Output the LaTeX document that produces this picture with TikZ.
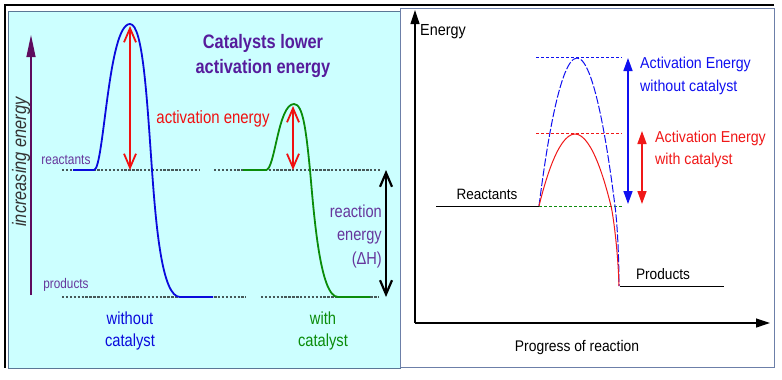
\documentclass[tikz,border=0pt]{standalone}
\usepackage{fontspec}
\setmainfont{Liberation Sans}
\newfontfamily\narrowsf[FakeStretch=0.84]{Liberation Sans}
\newfontfamily\plotsf[FakeStretch=0.9]{Liberation Sans}
\usetikzlibrary{arrows.meta}
\definecolor{panelcyan}{HTML}{CCFFFF}
\definecolor{paneledge}{HTML}{5A7896}
\definecolor{frameedge}{HTML}{6C7FA8}
\definecolor{titlepurple}{HTML}{561C9C}
\definecolor{labelpurple}{HTML}{66369C}
\definecolor{axispurple}{HTML}{5E0B5E}
\definecolor{dotgray}{HTML}{465858}
\definecolor{curveblue}{HTML}{0A0ADC}
\definecolor{curvegreen}{HTML}{0A8C0A}
\definecolor{arrowred}{HTML}{F01010}
\definecolor{plotblue}{HTML}{1010F0}
\definecolor{plotred}{HTML}{F01818}
\definecolor{plotgreen}{HTML}{108C10}

\begin{document}
\begin{tikzpicture}[x=1pt, y=-1pt,
  lbl/.style={inner sep=0pt, align=center},
  level/.style={draw=dotgray, line width=2.2pt, dash pattern=on 2.4pt off 1.5pt},
  curve/.style={line width=1.8pt, line join=round},
  gap/.style={{Straight Barb[length=14pt,width=12pt]}-{Straight Barb[length=14pt,width=12pt]}, line width=1.8pt},
  axis/.style={-{Triangle[length=14pt,width=9pt]}, line width=1.2pt},
  bar/.style={{Triangle[length=13pt,width=9pt]}-{Triangle[length=13pt,width=9pt]}, line width=1.5pt},
  guide/.style={line width=0.9pt, dash pattern=on 3pt off 2pt}]
  \useasboundingbox (0,0) rectangle (782,380);
  % left panel
  \fill[white] (0,0) rectangle (782,380);
  \draw[draw=paneledge, fill=panelcyan, line width=0.9pt] (8,11) rectangle (400,368);
  \draw[draw=frameedge, fill=white, line width=0.9pt] (400.5,8) rectangle (774,367);
  \draw[line width=1.2pt] (774,5) -- (5,5) -- (5,368);
  \coordinate (axisbot) at (31,295);
  \coordinate (axistop) at (31,35);
  \draw[-{Triangle[length=22pt,width=9pt]}, draw=axispurple, fill=axispurple, line width=1.2pt] (axisbot) -- (axistop);
  \node[lbl, rotate=90, font=\narrowsf\fontsize{19.5}{22}\selectfont\itshape, text=black!80] (incrlabel) at (21,162) {increasing energy};
  \node[lbl, font=\narrowsf\fontsize{19.5}{25}\selectfont\bfseries, text=titlepurple] (title) at (263,56) {Catalysts lower\\activation energy};
  \node[lbl, font=\narrowsf\fontsize{14.2}{16}\selectfont, text=labelpurple] (reactlabel) at (66,160) {reactants};
  \node[lbl, font=\narrowsf\fontsize{14}{16}\selectfont, text=labelpurple] (prodlabel) at (66,285) {products};
  \foreach \xa/\xb/\yy in {62/200/170, 214/380/170, 62/246/297, 261/379/297}
    \draw[level] (\xa,\yy) -- (\xb,\yy);
  \draw[curve, curveblue] (73,170) -- (94,170) .. controls (104,170) and (108,24) .. (130,24)
    .. controls (143,24) and (147,100) .. (152,170) .. controls (156,226) and (162,297) .. (180,297) -- (213,297);
  \draw[curve, curvegreen] (243,170) -- (266,170) .. controls (275,170) and (278,104) .. (294,104)
    .. controls (303,104) and (306,130) .. (310,170) .. controls (314,215) and (320,297) .. (338,297) -- (370,297);
  \coordinate (peakA) at (130,26);
  \coordinate (baseA) at (130,170);
  \coordinate (peakB) at (293,106);
  \coordinate (baseB) at (293,170);
  \coordinate (dHtop) at (386,170);
  \coordinate (dHbot) at (386,297);
  \draw[gap, arrowred] (peakA) -- (baseA);
  \draw[gap, arrowred] (peakB) -- (baseB);
  \draw[gap, black, line width=2.2pt] (dHtop) -- (dHbot);
  \node[lbl, font=\narrowsf\fontsize{17.8}{20}\selectfont, text=arrowred] (actlabel) at (213,119) {activation energy};
  \node[lbl, align=right, anchor=east, font=\narrowsf\fontsize{17.4}{23.5}\selectfont, text=labelpurple] (dHlabel) at (382,236) {reaction\\energy\\(ΔH)};
  \node[lbl, font=\narrowsf\fontsize{17.5}{22}\selectfont, text=curveblue] (nocatlabel) at (130,331) {without\\catalyst};
  \node[lbl, font=\narrowsf\fontsize{17.5}{22}\selectfont, text=curvegreen] (catlabel) at (323,331) {with\\catalyst};
  % right panel
  \coordinate (origin) at (415,323);
  \coordinate (ytip) at (415,10);
  \coordinate (xtip) at (770,323);
  \draw[axis] (origin) -- (ytip);
  \draw[axis] (origin) -- (xtip);
  \node[lbl, font=\plotsf\fontsize{16}{18}\selectfont] (energylabel) at (443,32) {Energy};
  \node[lbl, font=\plotsf\fontsize{15.4}{18}\selectfont] (progress) at (577,348) {Progress of reaction};
  \draw[line width=1pt] (436,206) -- (539,206);
  \draw[line width=1pt] (620,286) -- (724,286);
  \node[lbl, font=\plotsf\fontsize{15}{18}\selectfont] (reactantsR) at (487,194) {Reactants};
  \node[lbl, font=\plotsf\fontsize{15.2}{18}\selectfont] (productsR) at (663,274) {Products};
  \draw[guide, plotgreen] (539,206) -- (622,206);
  \draw[guide, plotblue] (536,57) -- (622,57);
  \draw[guide, plotred] (536,133) -- (622,133);
  \draw[plotblue, line width=1pt, dash pattern=on 8pt off 2pt] (539,206) parabola bend (577,58) (615,206)
    .. controls (617.5,225) and (619,260) .. (619,286);
  \draw[plotred, line width=1pt] (539,206) parabola bend (575,134) (611,206)
    .. controls (613,214) and (618,250) .. (619,286);
  \coordinate (bluetop) at (628,58);
  \coordinate (bluebot) at (628,204);
  \coordinate (redtop) at (642,131);
  \coordinate (redbot) at (642,204);
  \draw[bar, plotblue] (bluetop) -- (bluebot);
  \draw[bar, plotred] (redtop) -- (redbot);
  \node[lbl, anchor=west, align=left, font=\plotsf\fontsize{15.8}{23}\selectfont, text=plotblue] (actnocat) at (640,76) {Activation Energy\\without catalyst};
  \node[lbl, anchor=west, align=left, font=\plotsf\fontsize{15.8}{22}\selectfont, text=plotred] (actcat) at (655,149) {Activation Energy\\with catalyst};
\end{tikzpicture}
\end{document}
